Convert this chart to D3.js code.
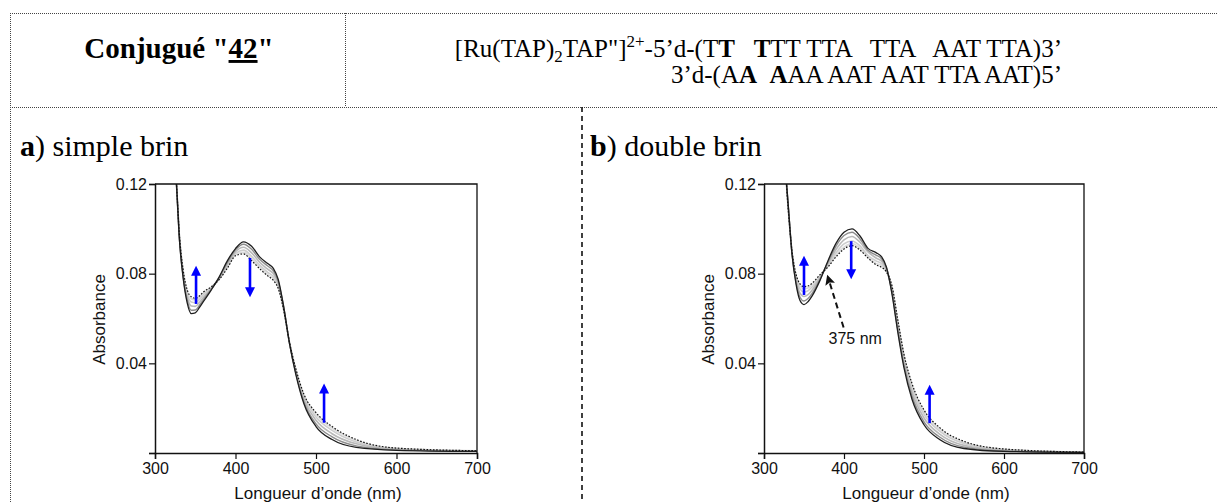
<!DOCTYPE html>
<html><head><meta charset="utf-8">
<script src="https://cdn.jsdelivr.net/npm/d3@7"></script>
<style>
body{margin:0;background:#fff;}
svg{display:block;}
</style></head>
<body>
<svg id="fig" width="1217" height="503"></svg>
<script>
// ---------- DATA ----------
const wavelengths = [324,327,330,335,340,345,350,355,360,370,380,390,400,410,420,430,440,447,453,460,467,475,485,500,520,550,600,700];

// a) simple brin : initial (s0) -> final (s5, dotted)
const ssS0 = [.135,.118,.097,.078,.067,.0622,.0625,.0648,.0675,.0728,.0787,.0858,.0912,.0942,.0922,.0875,.0845,.0824,.0775,.0650,.0490,.0350,.0220,.0118,.0060,.0025,.0012,.0007];
const ssS1 = [.135,.118,.0974,.0787,.0682,.0637,.0638,.0658,.0683,.0731,.0785,.0851,.0906,.0931,.0909,.0864,.0834,.0813,.0767,.0647,.0491,.0355,.0228,.0130,.0072,.0032,.0014,.0008];
const ssS2 = [.135,.118,.0979,.0796,.0696,.0656,.0654,.0671,.0694,.0734,.0782,.0843,.0898,.0918,.0893,.0851,.0820,.0800,.0757,.0643,.0492,.0361,.0239,.0146,.0086,.0041,.0017,.0008];
const ssS3 = [.135,.118,.0984,.0805,.0711,.0674,.0671,.0684,.0705,.0738,.0779,.0835,.0890,.0905,.0877,.0838,.0806,.0787,.0747,.0639,.0494,.0368,.0249,.0161,.0101,.0049,.0019,.0009];
const ssS4 = [.135,.118,.0988,.0812,.0721,.0688,.0683,.0694,.0713,.0740,.0776,.0829,.0884,.0895,.0866,.0829,.0796,.0778,.0740,.0637,.0495,.0372,.0257,.0173,.0111,.0056,.0021,.0010];
const ssS5 = [.135,.118,.099,.0816,.0728,.0697,.0690,.0700,.0718,.0742,.0775,.0825,.0880,.0888,.0858,.0822,.0790,.0770,.0735,.0635,.0495,.0375,.0262,.0180,.0118,.0060,.0022,.0010];

// b) double brin
const dsS0 = [.135,.125,.112,.0887,.0754,.0680,.0662,.0675,.0700,.0770,.0858,.0935,.0985,.1000,.0968,.0913,.0894,.0875,.0830,.0709,.0545,.0380,.0240,.0126,.0059,.0020,.0007,.0003];
const dsS1 = [.135,.125,.1116,.0890,.0763,.0695,.0678,.0689,.0711,.0775,.0852,.0923,.0970,.0985,.0955,.0904,.0883,.0866,.0826,.0716,.0556,.0392,.0254,.0139,.0070,.0026,.0009,.0003];
const dsS2 = [.135,.125,.1111,.0893,.0774,.0713,.0698,.0706,.0726,.0781,.0845,.0908,.0951,.0966,.0940,.0897,.0870,.0856,.0821,.0725,.0570,.0407,.0272,.0156,.0083,.0034,.0012,.0003];
const dsS3 = [.135,.125,.1106,.0897,.0785,.0732,.0718,.0724,.0740,.0786,.0838,.0893,.0933,.0946,.0924,.0881,.0857,.0845,.0814,.0734,.0584,.0422,.0289,.0172,.0096,.0042,.0015,.0004];
const dsS4 = [.135,.125,.1102,.0899,.0793,.0745,.0733,.0736,.0750,.0790,.0833,.0882,.0918,.0934,.0913,.0874,.0846,.0837,.0810,.0741,.0593,.0433,.0302,.0184,.0106,.0048,.0017,.0004];
const dsS5 = [.135,.125,.110,.0901,.0798,.0754,.0742,.0745,.0757,.0795,.0830,.0875,.0910,.0925,.0905,.0870,.0840,.0828,.0808,.0745,.0600,.0440,.0310,.0192,.0112,.0052,.0018,.0004];

const xTickLabels = [300,400,500,600,700];
const yTickLabels = ["0.04","0.08","0.12"];

// arrows: wavelength, from, to
const ssArrows = [[351,.0665,.0835],[418,.0870,.0695],[510,.0135,.0310]];
const dsArrows = [[350,.0705,.0880],[409,.0945,.0775],[507,.0133,.0305]];
const dsIsoArrow = [399.5,.0560,379,.0795];
const dsIsoLabel = "375 nm";
const dsIsoLabelPos = [414,.0485];

// style per series index s0..s5
const seriesStyles = [
  {c:"#1e1e1e", w:1.3, dash:null},
  {c:"#8c8c8c", w:1.4, dash:null},
  {c:"#b9b9b9", w:1.6, dash:null},
  {c:"#cdcdcd", w:1.6, dash:null},
  {c:"#dadada", w:1.6, dash:null},
  {c:"#111", w:1.2, dash:"1.6,1.6"}
];

// ---------- LAYOUT ----------
const svg = d3.select("#fig");
const serif = "'Liberation Serif','Times New Roman',serif";
const sans = "'Liberation Sans',Arial,sans-serif";

const dotted = (x1,y1,x2,y2,dash,w,col) => svg.append("line")
  .attr("x1",x1).attr("y1",y1).attr("x2",x2).attr("y2",y2)
  .attr("stroke",col||"#444").attr("stroke-width",w||1).attr("stroke-dasharray",dash||"1,1");
dotted(10,13.5,1217,13.5);
dotted(10,107.5,1217,107.5);
dotted(10.5,13,10.5,503);
dotted(345.5,13,345.5,107);
dotted(582,107,582,503,"5,4",1.6,"#111");

const t1 = svg.append("text").attr("x",179).attr("y",58).attr("text-anchor","middle")
  .attr("font-family",serif).attr("font-size",29).attr("font-weight","bold");
t1.append("tspan").text("Conjugué \"");
t1.append("tspan").attr("text-decoration","underline").text("42");
t1.append("tspan").text("\"");

function formula(y, parts){
  const t = svg.append("text").attr("x",1062).attr("y",y).attr("text-anchor","end")
    .attr("font-family",serif).attr("font-size",25).style("white-space","pre");
  parts.forEach(p=>{
    const s = t.append("tspan").text(p.t);
    if(p.b) s.attr("font-weight","bold");
    if(p.sub) s.attr("font-size",17).attr("dy",5);
    if(p.sup) s.attr("font-size",17).attr("dy",-10);
    if(p.back) s.attr("dy",p.back);
  });
}
formula(57,[
  {t:"[Ru(TAP)"},{t:"2",sub:true},{t:"TAP\"]",back:-5},{t:"2+",sup:true},{t:"-5’d-(T",back:10},
  {t:"T",b:true},{t:"   "},{t:"T",b:true},{t:"TT TTA   TTA   AAT TTA)3’"}
]);
formula(83,[
  {t:"3’d-(A"},{t:"A",b:true},{t:"  "},{t:"A",b:true},{t:"AA AAT AAT TTA AAT)5’"}
]);

function panelTitle(x, letter, rest){
  const t = svg.append("text").attr("x",x).attr("y",156).attr("font-family",serif).attr("font-size",30);
  t.append("tspan").attr("font-weight","bold").text(letter);
  t.append("tspan").text(rest);
}
panelTitle(20,"a",") simple brin");
panelTitle(590,"b",") double brin");

// ---------- CHARTS ----------
let clipId = 0;
function chart(left, right, series, arrows, iso){
  const top = 184, bottom = 453;
  const x = d3.scaleLinear().domain([300,700]).range([left,right]);
  const y = d3.scaleLinear().domain([0,0.12]).range([bottom,top]);
  const g = svg.append("g");
  const cid = "clip"+(clipId++);
  svg.append("clipPath").attr("id",cid).append("rect")
    .attr("x",left).attr("y",top).attr("width",right-left).attr("height",bottom-top);

  const line = d3.line().x((d,i)=>x(wavelengths[i])).y(d=>y(d)).curve(d3.curveMonotoneX);
  const order = [4,3,2,1,0,5];
  const cg = g.append("g").attr("clip-path","url(#"+cid+")");
  order.forEach(k=>{
    const st = seriesStyles[k];
    cg.append("path").attr("d",line(series[k])).attr("fill","none")
      .attr("stroke",st.c).attr("stroke-width",st.w).attr("stroke-dasharray",st.dash);
  });

  g.append("path").attr("d",`M${left},${top}H${right}V${bottom}`).attr("fill","none")
    .attr("stroke","#111").attr("stroke-width",1.3);

  const xMinor = d3.range(300,701,10).filter(v=>v%100!==0);
  const xa = g.append("g").attr("transform",`translate(0,${bottom})`);
  xa.call(d3.axisBottom(x).tickValues(xMinor).tickSize(4).tickFormat(""));
  xa.call(d3.axisBottom(x).tickValues(xTickLabels).tickSize(6).tickPadding(4).tickFormat(d3.format("d")));
  xa.selectAll("path.domain").attr("stroke","#111").attr("stroke-width",1.5);
  xa.selectAll("line").attr("stroke","#111").attr("stroke-width",1.2);
  xa.selectAll("text").attr("font-family",sans).attr("font-size",16).attr("fill","#111");

  const yMinor = d3.range(0,25).map(i=>i*0.005).filter(v=>Math.abs(v*25-Math.round(v*25))>1e-6);
  const ya = g.append("g").attr("transform",`translate(${left},0)`);
  ya.call(d3.axisLeft(y).tickValues(yMinor).tickSize(4).tickFormat(""));
  ya.call(d3.axisLeft(y).tickValues([0,0.04,0.08,0.12]).tickSize(6).tickPadding(2)
    .tickFormat(v=>{const i=[0.04,0.08,0.12].findIndex(t=>Math.abs(t-v)<1e-9); return i<0?"":yTickLabels[i];}));
  ya.selectAll("path.domain").attr("stroke","#111").attr("stroke-width",1.5);
  ya.selectAll("line").attr("stroke","#111").attr("stroke-width",1.2);
  ya.selectAll("text").attr("font-family",sans).attr("font-size",16).attr("fill","#111");

  g.append("text").attr("transform",`translate(${left-50},${(top+bottom)/2+1}) rotate(-90)`)
    .attr("text-anchor","middle").attr("font-family",sans).attr("font-size",17).attr("fill","#111")
    .text("Absorbance");
  g.append("text").attr("x",(left+right)/2+2).attr("y",499).attr("text-anchor","middle")
    .attr("font-family",sans).attr("font-size",17).attr("fill","#111").text("Longueur d’onde (nm)");

  arrows.forEach(a=>{
    const ax = x(a[0]), y0 = y(a[1]), y1 = y(a[2]);
    const dir = y1<y0 ? -1 : 1;
    const hl = 10, hw = 5;
    g.append("line").attr("x1",ax).attr("x2",ax).attr("y1",y0).attr("y2",y1 - dir*hl*0.6)
      .attr("stroke","#0000ff").attr("stroke-width",2.6);
    g.append("path").attr("d",`M${ax},${y1}L${ax-hw},${y1-dir*hl}L${ax+hw},${y1-dir*hl}Z`)
      .attr("fill","#0000ff");
  });

  if(iso){
    const a = iso.arrow;
    const x0=x(a[0]), y0=y(a[1]), x1=x(a[2]), y1=y(a[3]);
    const ang = Math.atan2(y1-y0,x1-x0);
    const hl=10, hw=5;
    const bx = x1 - hl*Math.cos(ang), by = y1 - hl*Math.sin(ang);
    g.append("line").attr("x1",x0).attr("y1",y0).attr("x2",bx+3*Math.cos(ang)).attr("y2",by+3*Math.sin(ang))
      .attr("stroke","#111").attr("stroke-width",2).attr("stroke-dasharray","6,4");
    g.append("path").attr("d",`M${x1},${y1}L${bx - hw*Math.sin(ang)},${by + hw*Math.cos(ang)}L${bx+2*Math.cos(ang)},${by+2*Math.sin(ang)}L${bx + hw*Math.sin(ang)},${by - hw*Math.cos(ang)}Z`)
      .attr("fill","#111");
    g.append("text").attr("x",x(iso.pos[0])).attr("y",y(iso.pos[1])).attr("text-anchor","middle")
      .attr("font-family",sans).attr("font-size",16).attr("fill","#111").text(iso.label);
  }
}

chart(155,477,[ssS0,ssS1,ssS2,ssS3,ssS4,ssS5],ssArrows,null);
chart(764,1084,[dsS0,dsS1,dsS2,dsS3,dsS4,dsS5],dsArrows,{arrow:dsIsoArrow,label:dsIsoLabel,pos:dsIsoLabelPos});
</script>
</body></html>
